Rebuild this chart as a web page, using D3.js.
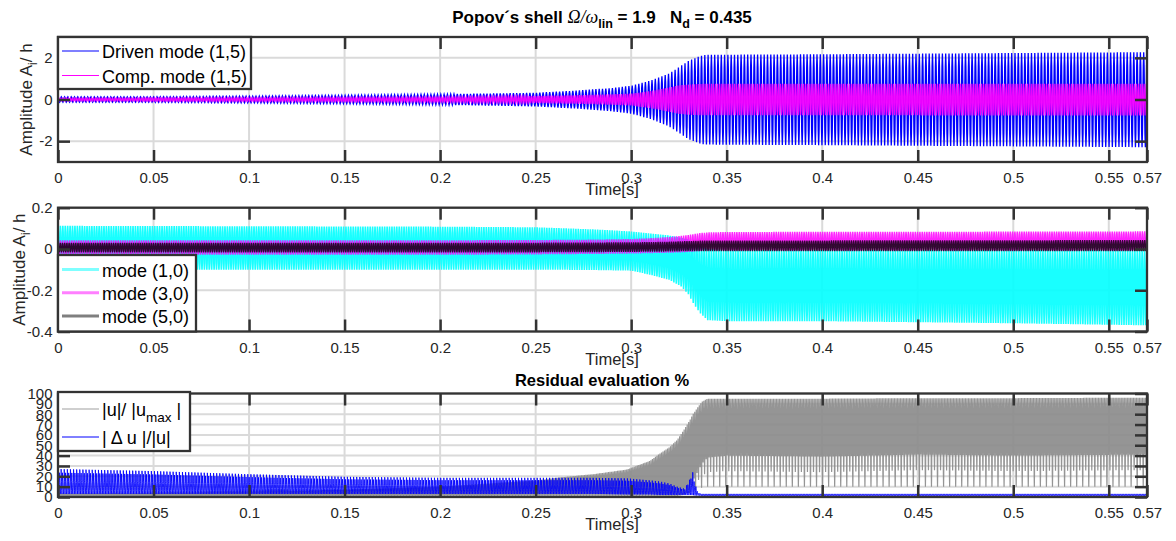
<!DOCTYPE html>
<html>
<head>
<meta charset="utf-8">
<script src="https://cdn.jsdelivr.net/npm/d3@7"></script>
<style>
  body { margin: 0; background: #fff; }
  svg { display: block; font-family: "Liberation Sans", Arial, Helvetica, sans-serif; }
  text { white-space: pre; }
</style>
</head>
<body>
<svg id="chart" width="1176" height="541"></svg>
<script>
// ---------------- data ----------------
// shared time axis
const xTickValues = [0, 0.05, 0.1, 0.15, 0.2, 0.25, 0.3, 0.35, 0.4, 0.45, 0.5, 0.55, 0.57];
const xTickLabels = ["0", "0.05", "0.1", "0.15", "0.2", "0.25", "0.3", "0.35", "0.4", "0.45", "0.5", "0.55", "0.57"];

// panel 1: modal amplitudes (1,5) — envelope of the oscillation (max / min) at knot times
const p1Time     = [0, 0.05, 0.1, 0.15, 0.2, 0.25, 0.27, 0.29, 0.3, 0.31, 0.32, 0.325, 0.33, 0.335, 0.338, 0.35, 0.4, 0.45, 0.5, 0.57];
const drivenMax  = [0.13, 0.13, 0.16, 0.2, 0.25, 0.32, 0.42, 0.55, 0.66, 0.9, 1.25, 1.55, 1.85, 2.05, 2.14, 2.15, 2.17, 2.2, 2.23, 2.27];
const drivenMin  = [-0.13, -0.13, -0.16, -0.2, -0.25, -0.33, -0.43, -0.57, -0.68, -0.93, -1.3, -1.6, -1.9, -2.08, -2.16, -2.17, -2.19, -2.22, -2.25, -2.29];
const compMax    = [0.07, 0.08, 0.09, 0.1, 0.12, 0.17, 0.2, 0.25, 0.28, 0.4, 0.58, 0.68, 0.72, 0.74, 0.75, 0.75, 0.75, 0.75, 0.76, 0.76];
const compMin    = [-0.07, -0.08, -0.09, -0.1, -0.12, -0.17, -0.2, -0.25, -0.29, -0.41, -0.59, -0.69, -0.73, -0.75, -0.76, -0.76, -0.76, -0.76, -0.77, -0.77];

// panel 2: axisymmetric modes (1,0), (3,0), (5,0)
const p2Time     = [0, 0.1, 0.2, 0.25, 0.28, 0.3, 0.31, 0.32, 0.326, 0.33, 0.333, 0.336, 0.34, 0.35, 0.4, 0.45, 0.5, 0.57];
const mode10Max  = [0.112, 0.11, 0.108, 0.105, 0.095, 0.085, 0.075, 0.065, 0.055, 0.045, 0.03, 0.015, 0.0, -0.005, -0.005, -0.005, -0.005, -0.005];
const mode10Min  = [-0.1, -0.1, -0.1, -0.1, -0.102, -0.105, -0.125, -0.15, -0.18, -0.22, -0.27, -0.31, -0.345, -0.35, -0.35, -0.355, -0.36, -0.37];
const mode30Max  = [0.042, 0.042, 0.042, 0.043, 0.045, 0.048, 0.052, 0.058, 0.063, 0.068, 0.072, 0.077, 0.08, 0.082, 0.083, 0.083, 0.084, 0.085];
const mode30Min  = [-0.028, -0.028, -0.028, -0.026, -0.024, -0.022, -0.02, -0.018, -0.016, -0.014, -0.012, -0.01, -0.008, -0.008, -0.008, -0.008, -0.008, -0.008];
const mode50Max  = [0.03, 0.03, 0.03, 0.03, 0.031, 0.032, 0.033, 0.035, 0.037, 0.038, 0.039, 0.04, 0.041, 0.041, 0.041, 0.042, 0.042, 0.043];
const mode50Min  = [-0.016, -0.016, -0.016, -0.016, -0.015, -0.014, -0.013, -0.012, -0.011, -0.011, -0.01, -0.01, -0.01, -0.01, -0.01, -0.01, -0.01, -0.01];

// panel 3: residual evaluation (%)
const p3Time       = [0, 0.05, 0.1, 0.15, 0.2, 0.25, 0.263, 0.28, 0.2977, 0.31, 0.315, 0.32, 0.324, 0.328, 0.331, 0.332, 0.3335, 0.335, 0.337, 0.34, 0.35, 0.4, 0.45, 0.5, 0.57];
const ratioMax     = [3, 3.5, 5, 7, 10, 16, 19, 22, 26.5, 35, 42, 48, 55, 66, 75, 79, 83, 87, 92, 95, 95, 95, 95.5, 95.5, 96];
const ratioMinDeep = [1, 1, 1, 1, 1, 1, 1, 1, 1, 1, 1, 1, 1, 2, 4, 5, 6, 8, 9, 10, 10, 10, 10, 10, 10];
const ratioMinMid  = [1, 1, 1, 1, 1, 1, 1, 1, 1, 1, 1, 1, 1, 2, 7, 10, 13, 16, 20, 24, 25, 24, 26, 25, 26];
const ratioMinHigh = [1, 1, 1, 1, 1, 1, 1, 1, 1, 1, 1, 1, 1, 2, 10, 15, 20, 25, 32, 38, 40, 39, 41, 40, 41];
const deltaMaxHigh = [27, 25, 22, 19.5, 18.5, 18.5, 18.5, 18.5, 18, 16, 15, 13, 10, 8, 18, 26, 12, 4, 3, 3, 3, 3, 3, 3, 3];
const deltaMaxLow  = [16, 15, 14, 13, 12, 12, 12, 12, 11, 10, 9, 8, 7, 6, 12, 18, 8, 3.5, 3, 3, 3, 3, 3, 3, 3];
const deltaMin     = [3, 3, 3, 3, 3, 3, 3, 3, 2.5, 2.5, 2, 2, 2, 2, 2, 2, 1.5, 1.5, 1, 1, 1, 1, 1, 1, 1];

// ---------------- layout ----------------
const svg = d3.select("#chart");
const X0 = 58, X1 = 1147;
const FRAME = "#333333";
const GRID = "#dadada";
const x = d3.scaleLinear().domain([0, 0.57]).range([X0, X1]);

// oscillating trace: cycle k peaks at highs[k % n] and dips to lows[k % m]
function trace(T, highs, lows, cycles) {
  const fHi = highs.map(a => d3.scaleLinear(T, a).clamp(true));
  const fLo = lows.map(a => d3.scaleLinear(T, a).clamp(true));
  const tEnd = T[T.length - 1];
  const P = tEnd / cycles, S = 8, pts = [];
  for (let k = 0; k < cycles; k++) {
    const hF = fHi[k % fHi.length], lF = fLo[k % fLo.length];
    for (let j = 0; j < S; j++) {
      const t = (k + j / S) * P;
      const h = hF(t), l = lF(t);
      const c = (1 + Math.cos(2 * Math.PI * j / S)) / 2;
      pts.push([t, l + (h - l) * c]);
    }
  }
  pts.push([tEnd, fHi[0](tEnd)]);
  return pts;
}

function panel(cfg) {
  const g = svg.append("g");
  const y = d3.scaleLinear().domain(cfg.yDomain).range([cfg.bottom, cfg.top]);
  const clipId = "clip" + cfg.id;
  svg.append("clipPath").attr("id", clipId).append("rect")
    .attr("x", X0).attr("y", cfg.top).attr("width", X1 - X0).attr("height", cfg.bottom - cfg.top);

  // grid
  const grid = g.append("g").attr("stroke", GRID).attr("stroke-width", 2);
  grid.selectAll("line.gx").data(xTickValues.slice(1, -1)).join("line")
    .attr("x1", d => x(d)).attr("x2", d => x(d)).attr("y1", cfg.top).attr("y2", cfg.bottom);
  grid.selectAll("line.gy").data(cfg.yTicks).join("line")
    .attr("x1", X0).attr("x2", X1).attr("y1", d => y(d)).attr("y2", d => y(d));

  // data
  const line = d3.line().x(d => x(d[0])).y(d => y(d[1]));
  const dg = g.append("g").attr("clip-path", `url(#${clipId})`);
  cfg.series.forEach(s => {
    dg.append("path").attr("d", line(s.pts)).attr("fill", "none")
      .attr("stroke", s.color).attr("stroke-width", s.width).attr("stroke-opacity", s.opacity);
  });

  // frame + inward ticks
  const axB = g.append("g").attr("transform", `translate(0,${cfg.bottom})`)
    .call(d3.axisBottom(x).tickValues(xTickValues).tickFormat((d, i) => xTickLabels[i])
      .tickSizeInner(-12).tickSizeOuter(0).tickPadding(10.5));
  const axT = g.append("g").attr("transform", `translate(0,${cfg.top})`)
    .call(d3.axisTop(x).tickValues(xTickValues).tickFormat("").tickSizeInner(-12).tickSizeOuter(0));
  const axL = g.append("g").attr("transform", `translate(${X0},0)`)
    .call(d3.axisLeft(y).tickValues(cfg.yTicks).tickFormat((d, i) => cfg.yLabels[i])
      .tickSizeInner(-12).tickSizeOuter(0).tickPadding(5.5));
  const axR = g.append("g").attr("transform", `translate(${X1},0)`)
    .call(d3.axisRight(y).tickValues(cfg.yTicks).tickFormat("").tickSizeInner(-12).tickSizeOuter(0));
  [axB, axT, axL, axR].forEach(a => {
    a.select(".domain").remove();
    a.selectAll(".tick line").attr("stroke", FRAME).attr("stroke-width", 2.5);
    a.selectAll(".tick text").attr("fill", "#262626").style("font-size", "15px")
      .style("font-family", '"Liberation Sans", Arial, sans-serif');
  });
  g.append("rect").attr("x", X0).attr("y", cfg.top).attr("width", X1 - X0).attr("height", cfg.bottom - cfg.top)
    .attr("fill", "none").attr("stroke", FRAME).attr("stroke-width", 2.3);

  // x label
  g.append("text").attr("x", 612).attr("y", cfg.bottom + 33).attr("text-anchor", "middle")
    .attr("fill", "#262626").style("font-size", "16.5px").text("Time[s]");

  // y label
  if (cfg.yLabelX) {
    const t = g.append("text")
      .attr("transform", `translate(${cfg.yLabelX},${(cfg.top + cfg.bottom) / 2}) rotate(-90)`)
      .attr("text-anchor", "middle").attr("fill", "#262626").style("font-size", "17px");
    t.append("tspan").text("Amplitude A");
    t.append("tspan").attr("dy", 5).style("font-size", "12px").text("i");
    t.append("tspan").attr("dy", -5).text("/ h");
  }

  // legend
  const L = cfg.legend;
  const lg = g.append("g");
  lg.append("rect").attr("x", L.x).attr("y", L.y).attr("width", L.w).attr("height", L.h)
    .attr("fill", "#fff").attr("stroke", FRAME).attr("stroke-width", 2.3);
  L.items.forEach((it, i) => {
    const cy = L.y + L.first + i * L.step;
    lg.append("line").attr("x1", L.x + 4).attr("x2", L.x + 41).attr("y1", cy).attr("y2", cy)
      .attr("stroke", it.color).attr("stroke-width", it.width).attr("stroke-opacity", it.opacity);
    const tx = lg.append("text").attr("x", L.x + 44).attr("y", cy + 7)
      .attr("fill", "#000").style("font-size", "18px");
    it.parts.forEach(p => {
      const ts = tx.append("tspan").text(p.t);
      if (p.sub) ts.attr("dy", 6).style("font-size", "13.5px");
      if (p.up) ts.attr("dy", -6);
    });
  });
  return y;
}

// ---- panel 1 ----
panel({
  id: 1, top: 37, bottom: 162, yDomain: [-3, 3], yTicks: [-2, 0, 2], yLabels: ["-2", "0", "2"],
  yLabelX: 32,
  series: [
    { pts: trace(p1Time, [drivenMax], [drivenMin], 330), color: "#0000ff", width: 1.3, opacity: 1 },
    { pts: trace(p1Time, [compMax], [compMin], 520), color: "#ff00ff", width: 1.2, opacity: 0.9 }
  ],
  legend: { x: 58, y: 37, w: 193, h: 52, first: 14, step: 24.5, items: [
    { color: "#0000ff", width: 1.2, opacity: 1, parts: [{ t: "Driven mode (1,5)" }] },
    { color: "#ff00ff", width: 1.2, opacity: 1, parts: [{ t: "Comp. mode (1,5)" }] }
  ] }
});

// ---- panel 2 ----
panel({
  id: 2, top: 207.7, bottom: 331.5, yDomain: [-0.4, 0.2], yTicks: [-0.4, -0.2, 0, 0.2],
  yLabels: ["-0.4", "-0.2", "0", "0.2"], yLabelX: 25,
  series: [
    { pts: trace(p2Time, [mode10Max], [mode10Min], 450), color: "#00ffff", width: 1.6, opacity: 0.9 },
    { pts: trace(p2Time, [mode30Max], [mode30Min], 470), color: "#ff00ff", width: 1.4, opacity: 0.85 },
    { pts: trace(p2Time, [mode50Max], [mode50Min], 490), color: "#000000", width: 1.3, opacity: 0.8 }
  ],
  legend: { x: 58, y: 255, w: 138, h: 76.5, first: 14.5, step: 23.3, items: [
    { color: "#00ffff", width: 3, opacity: 0.5, parts: [{ t: "mode (1,0)" }] },
    { color: "#ff00ff", width: 3, opacity: 0.5, parts: [{ t: "mode (3,0)" }] },
    { color: "#000000", width: 3, opacity: 0.5, parts: [{ t: "mode (5,0)" }] }
  ] }
});

// ---- panel 3 ----
const p3Ticks = d3.range(0, 101, 10);
panel({
  id: 3, top: 393.5, bottom: 497, yDomain: [0, 100], yTicks: p3Ticks,
  yLabels: p3Ticks.map(String), yLabelX: null,
  series: [
    { pts: trace(p3Time, [ratioMax], [ratioMinHigh, ratioMinDeep, ratioMinHigh, ratioMinMid], 720),
      color: "#8a8a8a", width: 1.2, opacity: 0.9 },
    { pts: trace(p3Time, [deltaMaxHigh, deltaMaxLow], [deltaMin], 700), color: "#0000ff", width: 1, opacity: 0.85 }
  ],
  legend: { x: 58, y: 392, w: 132, h: 59, first: 17, step: 28, items: [
    { color: "#a0a0a0", width: 1.2, opacity: 1, parts: [{ t: "|u|/ |u" }, { t: "max", sub: true }, { t: " |", up: true }] },
    { color: "#0000ff", width: 1, opacity: 1, parts: [{ t: "| Δ u |/|u|" }] }
  ] }
});

// ---- titles ----
const title = svg.append("text").attr("x", 602).attr("y", 23).attr("text-anchor", "middle")
  .attr("fill", "#000").style("font-size", "17px").style("font-weight", "bold");
title.append("tspan").text("Popov´s shell ");
title.append("tspan").style("font-family", '"Liberation Serif", "DejaVu Serif", serif')
  .style("font-style", "italic").style("font-weight", "normal").style("font-size", "18px").text("Ω/ω");
title.append("tspan").attr("dy", 5).style("font-size", "12.5px").text("lin");
title.append("tspan").attr("dy", -5).text(" = 1.9   N");
title.append("tspan").attr("dy", 5).style("font-size", "12.5px").text("d");
title.append("tspan").attr("dy", -5).text(" = 0.435");

svg.append("text").attr("x", 602).attr("y", 386).attr("text-anchor", "middle")
  .attr("fill", "#000").style("font-size", "16.5px").style("font-weight", "bold")
  .text("Residual evaluation %");
</script>
</body>
</html>
